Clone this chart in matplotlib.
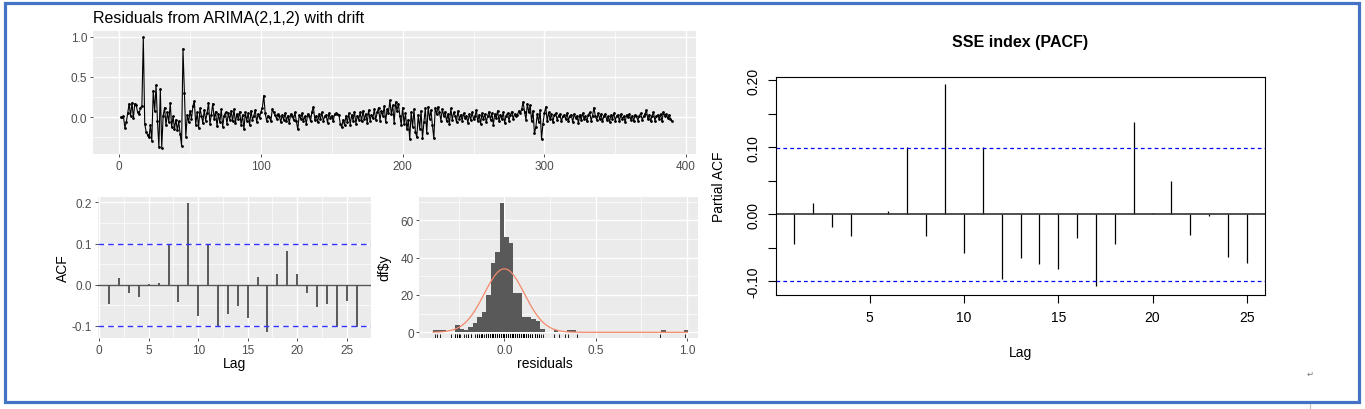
import numpy as np
import matplotlib
matplotlib.use('Agg')
import matplotlib.pyplot as plt
from matplotlib.patches import Rectangle
from matplotlib.ticker import MultipleLocator, FixedLocator, FormatStrFormatter

plt.rcParams['font.family'] = ['Liberation Sans', 'DejaVu Sans']

# residual series (t = 1..390)
residuals = [
    0.00, 0.00, 0.01, -0.13, -0.06, 0.05, 0.17, 0.02, 0.18, -0.01,
    0.17, 0.15, 0.06, 0.04, 0.12, 0.14, 0.99, -0.08, -0.18, -0.22,
    -0.25, -0.10, -0.29, 0.33, 0.08, 0.40, -0.05, -0.37, 0.35, -0.38,
    0.02, 0.12, -0.10, 0.06, -0.06, 0.18, -0.12, 0.01, -0.14, -0.03,
    -0.16, -0.05, -0.21, -0.35, 0.85, 0.30, -0.24, 0.03, -0.06, 0.08,
    -0.02, 0.14, 0.20, -0.09, 0.06, -0.13, 0.11, 0.02, -0.07, 0.09,
    -0.04, 0.05, 0.18, -0.08, 0.03, 0.17, -0.02, 0.07, -0.11, 0.04,
    -0.06, 0.10, -0.12, 0.02, 0.06, -0.08, 0.05, -0.03, 0.08, -0.05,
    0.10, -0.07, 0.04, -0.02, 0.07, -0.09, 0.03, -0.15, 0.06, -0.04,
    0.05, -0.10, 0.08, -0.03, 0.02, 0.09, -0.06, 0.04, -0.01, 0.07,
    0.12, 0.27, 0.05, -0.04, 0.02, 0.00, -0.05, 0.10, 0.06, 0.03,
    -0.02, 0.04, 0.01, -0.06, 0.03, -0.03, 0.05, -0.04, 0.02, -0.07,
    0.04, 0.01, -0.03, 0.06, -0.05, -0.15, 0.03, -0.02, 0.05, -0.04,
    0.01, -0.08, 0.04, 0.02, -0.05, 0.07, 0.13, -0.03, 0.02, -0.06,
    0.04, -0.02, 0.06, -0.04, 0.01, 0.03, -0.07, 0.05, -0.01, 0.02,
    -0.05, 0.04, 0.05, 0.04, 0.03, -0.08, -0.12, -0.03, -0.10, 0.02,
    -0.06, 0.05, -0.09, 0.03, -0.04, 0.07, -0.08, 0.02, -0.03, 0.06,
    -0.05, 0.08, -0.02, 0.04, -0.07, 0.09, -0.04, 0.03, -0.01, 0.10,
    -0.03, 0.06, 0.12, -0.04, 0.08, 0.02, 0.14, -0.06, 0.10, 0.05,
    0.21, 0.04, 0.15, -0.07, 0.19, 0.08, 0.17, 0.02, -0.09, 0.12,
    -0.08, 0.05, -0.15, -0.03, -0.27, 0.06, -0.12, 0.10, -0.18, -0.25,
    0.03, -0.14, 0.08, -0.26, -0.06, 0.11, -0.20, 0.13, -0.02, 0.09,
    -0.10, -0.26, 0.12, 0.04, 0.13, 0.06, -0.04, 0.10, 0.02, 0.07,
    -0.05, 0.04, -0.08, 0.11, -0.03, 0.06, 0.02, -0.06, 0.08, -0.02,
    0.03, -0.04, 0.05, -0.01, 0.02, -0.07, 0.04, -0.03, 0.06, -0.02,
    0.01, 0.09, -0.05, 0.03, -0.08, 0.05, -0.02, 0.04, -0.06, 0.02,
    0.07, -0.03, 0.05, -0.09, 0.04, -0.01, 0.08, -0.05, 0.03, -0.02,
    0.06, -0.07, 0.02, 0.05, -0.04, 0.03, 0.07, -0.02, 0.04, 0.01,
    0.03, 0.08, 0.05, 0.10, 0.19, 0.07, -0.03, 0.17, 0.06, 0.15,
    -0.05, 0.08, -0.20, -0.12, 0.04, -0.06, 0.09, -0.27, -0.08, 0.05,
    0.13, -0.05, 0.06, -0.02, 0.04, -0.06, 0.03, 0.05, -0.03, 0.02,
    0.04, -0.05, 0.01, 0.03, -0.02, 0.05, -0.04, 0.02, 0.03, -0.06,
    0.04, -0.01, 0.02, -0.07, 0.03, -0.03, 0.05, -0.02, 0.01, -0.05,
    0.03, 0.06, -0.04, 0.02, 0.12, 0.01, -0.03, 0.05, -0.02, 0.04,
    -0.05, 0.02, 0.04, -0.03, 0.01, -0.06, 0.03, -0.02, 0.05, -0.04,
    0.02, 0.03, -0.05, 0.04, -0.02, 0.01, -0.06, 0.03, 0.00, 0.04,
    -0.03, 0.02, -0.05, 0.03, 0.01, -0.04, 0.02, 0.05, -0.03, 0.01,
    0.04, 0.09, -0.02, 0.03, -0.05, 0.02, 0.06, -0.04, 0.01, 0.03,
    -0.02, 0.04, -0.05, 0.06, 0.02, 0.04, -0.01, 0.03, -0.02, -0.05,
]

acf_lags = list(range(1, 27))
acf_vals = [-0.047, 0.017, -0.021, -0.031, 0.001, 0.004, 0.100, -0.041, 0.198, -0.077,
            0.098, -0.102, -0.070, -0.051, -0.082, 0.019, -0.114, 0.026, 0.082, 0.026,
            -0.021, -0.053, -0.047, -0.102, -0.039, -0.102]

# histogram of residuals: bin width and counts, first bin index -16
hist_width = 0.0245
hist_first_bin = -16
hist_counts = [1, 1, 1, 0, 0, 4, 2, 1, 3, 5,
               8, 11, 20, 37, 43, 69, 51, 48, 21, 21,
               8, 8, 7, 6, 2, 0, 0, 1, 0, 0,
               1, 1, 0, 0, 0, 0, 0, 0, 0, 0,
               0, 0, 0, 0, 0, 0, 0, 0, 0, 0,
               0, 1, 0, 0, 0, 0, 1]
normal_peak = 34
normal_sd = 0.11

pacf_lags = list(range(1, 26))
pacf_vals = [-0.045, 0.017, -0.019, -0.032, 0.001, 0.005, 0.101, -0.033, 0.194, -0.058,
             0.101, -0.097, -0.065, -0.074, -0.081, -0.035, -0.107, -0.044, 0.137, 0.002,
             0.050, -0.031, -0.003, -0.064, -0.073]
conf_limit = 0.0993

W, H = 1365, 410
fig = plt.figure(figsize=(W / 100, H / 100), dpi=100)
fig.patch.set_facecolor('white')


def px_axes(left, top, right, bottom):
    return fig.add_axes([left / W, 1 - bottom / H, (right - left) / W, (bottom - top) / H])


def gg_style(ax, xmajor, xminor, ymajor, yminor):
    ax.set_facecolor('#EBEBEB')
    ax.xaxis.set_major_locator(MultipleLocator(xmajor))
    ax.xaxis.set_minor_locator(MultipleLocator(xminor))
    ax.yaxis.set_major_locator(MultipleLocator(ymajor))
    ax.yaxis.set_minor_locator(MultipleLocator(yminor))
    ax.grid(which='major', color='white', lw=1.0)
    ax.grid(which='minor', color='white', lw=0.5)
    ax.set_axisbelow(True)
    for s in ax.spines.values():
        s.set_visible(False)
    ax.tick_params(which='major', length=2.5, width=0.6, color='#333333',
                   labelcolor='#4D4D4D', labelsize=8.5, pad=1.5)
    ax.tick_params(which='minor', length=0)


# top: residual time series
ax1 = px_axes(93, 32, 696, 155)
t = np.arange(1, len(residuals) + 1)
ax1.plot(t, residuals, color='black', lw=0.8, marker='o', ms=1.0)
ax1.set_xlim(-18.5, 407)
ax1.set_ylim(-0.455, 1.07)
gg_style(ax1, 100, 50, 0.5, 0.25)
ax1.yaxis.set_major_formatter(FormatStrFormatter('%.1f'))
ax1.xaxis.set_major_formatter(FormatStrFormatter('%d'))
fig.text(93 / W, 1 - 19 / H, 'Residuals from ARIMA(2,1,2) with drift',
         fontsize=11.5, ha='left', va='center')

# bottom left: ACF
ax2 = px_axes(97.7, 198, 370.7, 339)
ax2.axhline(0, color='#555555', lw=1.0)
ax2.vlines(acf_lags, 0, acf_vals, color='#4D4D4D', lw=1.3)
for c in (conf_limit, -conf_limit):
    ax2.axhline(c, color='#3333FF', lw=1.0, ls=(0, (4, 3)))
ax2.set_xlim(-0.16, 27.43)
ax2.set_ylim(-0.1294, 0.2129)
gg_style(ax2, 5, 2.5, 0.1, 0.05)
ax2.yaxis.set_major_formatter(FormatStrFormatter('%.1f'))
fig.text(63 / W, 1 - 268 / H, 'ACF', fontsize=10, rotation=90, ha='center', va='center')
fig.text(234 / W, 1 - 364 / H, 'Lag', fontsize=10, ha='center', va='center')

# bottom middle: histogram with normal curve and rug
ax3 = px_axes(419.3, 197.7, 698, 339)
edges = (np.arange(len(hist_counts)) + hist_first_bin) * hist_width
ax3.bar(edges, hist_counts, width=hist_width, align='edge', color='#595959', lw=0)
xs = np.linspace(-0.39, 1.0, 400)
ax3.plot(xs, normal_peak * np.exp(-xs ** 2 / (2 * normal_sd ** 2)), color='#F4896B', lw=0.9)
ax3.vlines(residuals, 0, 0.03, transform=ax3.get_xaxis_transform(), color='black', lw=0.6)
ax3.set_xlim(-0.465, 1.059)
ax3.set_ylim(-3.05, 72.6)
gg_style(ax3, 0.5, 0.25, 20, 10)
ax3.xaxis.set_major_formatter(FormatStrFormatter('%.1f'))
fig.text(384 / W, 1 - 268 / H, 'df$y', fontsize=10, rotation=90, ha='center', va='center')
fig.text(545 / W, 1 - 364 / H, 'residuals', fontsize=10, ha='center', va='center')

# right: base-R style PACF
ax4 = px_axes(776, 77.7, 1265, 296)
ax4.vlines(pacf_lags, 0, pacf_vals, color='black', lw=0.9)
ax4.axhline(0, color='#333333', lw=1.2)
for c in (conf_limit, -conf_limit):
    ax4.axhline(c, color='#0000FF', lw=0.9, ls=(0, (3, 2.5)))
ax4.set_xlim(0.04, 25.96)
ax4.set_ylim(-0.1203, 0.2051)
ax4.xaxis.set_major_locator(FixedLocator([5, 10, 15, 20, 25]))
yt = [-0.10, -0.05, 0.00, 0.05, 0.10, 0.15, 0.20]
ax4.set_yticks(yt)
ax4.set_yticklabels(['-0.10', '', '0.00', '', '0.10', '', '0.20'], rotation=90, va='center')
for s in ax4.spines.values():
    s.set_color('black')
    s.set_linewidth(0.8)
ax4.tick_params(length=6, width=0.8, labelsize=10, pad=5, color='black')
fig.text(1020 / W, 1 - 42 / H, 'SSE index (PACF)', fontsize=11.5, fontweight='bold',
         ha='center', va='center')
fig.text(1020 / W, 1 - 353 / H, 'Lag', fontsize=10, ha='center', va='center')
fig.text(719 / W, 1 - 187 / H, 'Partial ACF', fontsize=10, rotation=90, ha='center', va='center')

# page decoration: blue frame and paragraph mark
fig.patches.append(Rectangle((5 / W, 1 - 403 / H), 1354 / W, 399 / H, fill=False,
                             ec='#4472C4', lw=2.3, transform=fig.transFigure))
fig.text(1310 / W, 1 - 374 / H, '\u21b5', fontsize=6, color='#777777', ha='center', va='center',
         family='DejaVu Sans')
fig.lines.append(plt.Line2D([1310 / W, 1310 / W], [0, 1 - 405 / H], color='#BBBBBB', lw=0.8,
                            transform=fig.transFigure))

fig.savefig('out.png', dpi=100)
